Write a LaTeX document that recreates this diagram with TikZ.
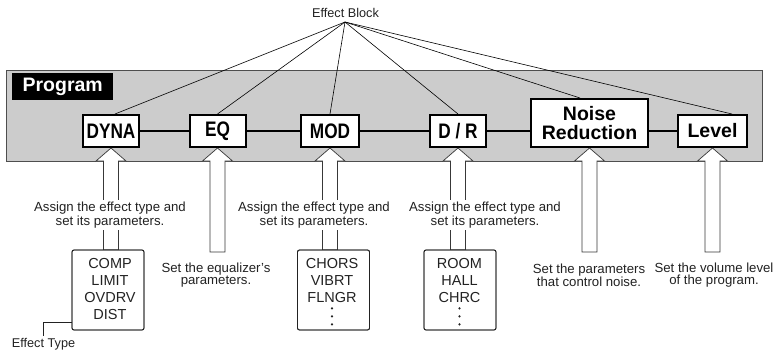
\documentclass[tikz,border=0pt]{standalone}
\usepackage{fontspec}
\setmainfont{Liberation Sans}
\newfontfamily\condfont{Liberation Sans}[FakeStretch=0.82]
\usetikzlibrary{calc}
\definecolor{panelgray}{RGB}{204,204,204}
\definecolor{ink}{RGB}{34,34,34}
\newcommand\hollowup[2]{%
	\path (#1 |- #2) coordinate (hb);
	\filldraw[hol] (#1) -- ++(15,13) -- ++(-7.5,0) -- ($(hb)+(7.5,0)$)
		-- ($(hb)+(-7.5,0)$) -- ($(#1)+(-7.5,13)$) -- ++(-7.5,0) -- cycle;
}
\begin{document}
\begin{tikzpicture}[
	x=1pt,y=-1pt,
	blk/.style={draw,line width=2pt,fill=white,anchor=south,inner sep=1pt,
		minimum height=32,minimum width=56,font=\condfont\bfseries\fontsize{21}{21}\selectfont},
	wblk/.style={blk,font=\bfseries\fontsize{19.5}{18.5}\selectfont,align=center},
	chain/.style={line width=2pt},
	ray/.style={line width=0.6pt,black},
	hol/.style={fill=white,draw=ink!90,line width=0.7pt},
	tbx/.style={draw=ink,line width=0.8pt,rounded corners=2pt,fill=white,
		minimum width=72,minimum height=80},
	tlist/.style={anchor=north,inner sep=0pt,align=center,text=ink,
		font=\fontsize{14.5}{17}\selectfont},
	note/.style={align=center,fill=white,inner sep=2pt,text=ink,
		font=\fontsize{13.2}{12}\selectfont},
	]
\useasboundingbox (0,0) rectangle (776,349);
\draw[fill=panelgray,draw=ink!80,line width=0.7pt] (6,70) rectangle (762,161);
\node[fill=black,text=white,anchor=north west,minimum width=101,minimum height=27,
	inner sep=0pt,font=\bfseries\fontsize{19.5}{19.5}\selectfont] (prog) at (12,73) {Program};

\node[blk] (dyna) at (111,148) {DYNA};
\node[blk] (eq) at (217.5,148) {EQ};
\node[blk,minimum width=58] (mod) at (330,148) {MOD};
\node[blk] (dr) at (458,148) {D / R};
\node[wblk,minimum width=117,minimum height=48] (nr) at (589.5,148) {Noise\\Reduction};
\node[wblk,minimum width=69] (lvl) at (712.5,148) {Level};

\draw[chain] (dyna) -- (eq) -- (mod) -- (dr);
\draw[chain] (dr) -- (dr -| nr.west);
\draw[chain] (nr.east |- lvl) -- (lvl);

\node[anchor=base,text=ink,font=\fontsize{12.7}{12}\selectfont] (eblock) at (345.5,17) {Effect Block};
\coordinate (hub) at (345,22);
\draw[ray] (hub) -- ([xshift=4pt]dyna.north);
\draw[ray] (hub) -- (eq.north);
\draw[ray] (hub) -- (mod.north);
\draw[ray] (hub) -- (dr.north);
\draw[ray] (hub) -- ([xshift=-9.5pt]nr.north);
\draw[ray] (hub) -- ([xshift=19.5pt]lvl.north);

\node[tbx] (comp) at (108,290) {};
\node[tbx] (chors) at (333.5,290) {};
\node[tbx] (room) at (460,290) {};
\coordinate (eqend) at (216,252);
\coordinate (nrend) at (589,252);
\coordinate (lvend) at (712,252);

\hollowup{dyna.south}{comp.north}
\hollowup{eq.south}{eqend}
\hollowup{mod.south}{chors.north}
\hollowup{dr.south}{room.north}
\hollowup{nr.south}{nrend}
\hollowup{lvl.south}{lvend}

\node[tbx,fill=none] at (comp) {};
\node[tbx,fill=none] at (chors) {};
\node[tbx,fill=none] at (room) {};

\node[tlist] (complist) at (110,258.5) {COMP\\LIMIT\\OVDRV\\DIST};
\node[tlist] (chorslist) at (332,258.5) {CHORS\\VIBRT\\FLNGR};
\node[tlist] (roomlist) at (459.5,258.5) {ROOM\\HALL\\CHRC};
\foreach \d in {6,14,22} {
	\fill[ink] ($(chors.south)+(-1.5,-\d)$) circle (1.2);
	\fill[ink] ($(room.south)+(-0.5,-\d)$) circle (1.2);
}

\node[note] (dnote) at (110,215) {Assign the effect type and\\set its parameters.};
\node[note] (mnote) at (314,215) {Assign the effect type and\\set its parameters.};
\node[note] (rnote) at (485,215) {Assign the effect type and\\set its parameters.};
\node[note] (eqnote) at (216,275) {Set the equalizer's\\parameters.};
\node[note] (nrnote) at (589,275) {Set the parameters\\that control noise.};
\node[note] (lvnote) at (714,275) {Set the volume level\\of the program.};

\node[anchor=base,inner sep=1.5pt,text=ink,font=\fontsize{12.7}{12}\selectfont] (etype) at (43.5,347) {Effect Type};
\draw[ink,line width=0.7pt] ([yshift=-32pt]comp.west) -| (etype.north);
\end{tikzpicture}
\end{document}
